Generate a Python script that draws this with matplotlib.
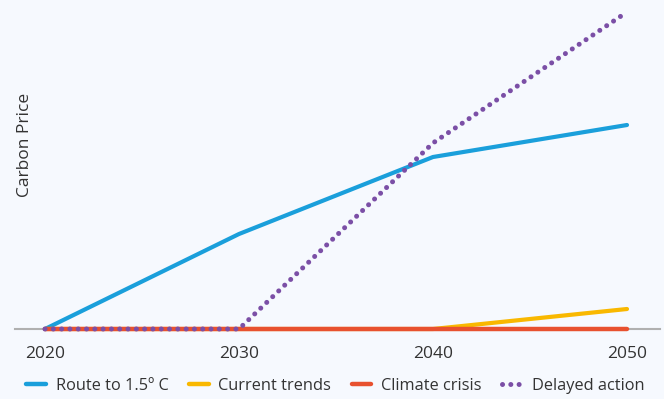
import matplotlib
matplotlib.use("Agg")
import matplotlib.pyplot as plt
from matplotlib.lines import Line2D

years = [2020, 2030, 2040, 2050]
route = [0, 95, 172, 204]
current = [0, 0, 0, 20]
crisis = [0, 0, 0, 0]
delayed = [0, 0, 186, 317]
labels = ["Route to 1.5º C", "Current trends", "Climate crisis", "Delayed action"]
colors = ["#1a9fdb", "#f9b800", "#e8512f", "#7b4fa6"]

plt.rcParams['font.family'] = ['Open Sans', 'DejaVu Sans']
bg = "#f6f9fe"
fig = plt.figure(figsize=(6.64, 3.99), dpi=100, facecolor=bg)
W, H = 664, 399
ax = fig.add_axes([15 / W, 70 / H, 645 / W, 324 / H], facecolor=bg)
ax.set_xlim(2020 - 30 / 19.4, 2050 + 33 / 19.4)
ax.set_ylim(0, 324)

dots = (0, (0.01, 1.65))
ax.axhline(0, color="#b0b0b0", lw=1.5, zorder=1, clip_on=False)
ax.plot(years, route, color=colors[0], lw=3, solid_capstyle="round", zorder=3, clip_on=False)
ax.plot(years, current, color=colors[1], lw=3, solid_capstyle="round", zorder=3, clip_on=False)
ax.plot(years, crisis, color=colors[2], lw=3.2, solid_capstyle="round", zorder=4, clip_on=False)
ax.plot(years, delayed, color=colors[3], lw=3.6, linestyle=dots,
        dash_capstyle="round", zorder=5, clip_on=False)

for s in ax.spines.values():
    s.set_visible(False)
ax.set_yticks([])
ax.set_xticks(years)
ax.set_xticklabels([str(y) for y in years], fontsize=12.5, color="#333333")
ax.tick_params(axis="x", length=0, pad=12)

fig.text(25 / W, 1 - 145 / H, "Carbon Price", rotation=90, ha="center", va="center",
         fontsize=12.5, color="#333333")

handles = [
    Line2D([], [], color=colors[0], lw=3.2, solid_capstyle="round"),
    Line2D([], [], color=colors[1], lw=3.2, solid_capstyle="round"),
    Line2D([], [], color=colors[2], lw=3.2, solid_capstyle="round"),
    Line2D([], [], color=colors[3], lw=3.6, linestyle=dots, dash_capstyle="round"),
]
fig.legend(handles, labels, loc="center", bbox_to_anchor=(0.505, 1 - 386 / H), ncol=4,
           frameon=False, fontsize=11.8, handlelength=1.2, handletextpad=0.6,
           columnspacing=1.25, labelcolor="#333333")

fig.savefig("out.png", dpi=100, facecolor=bg)
